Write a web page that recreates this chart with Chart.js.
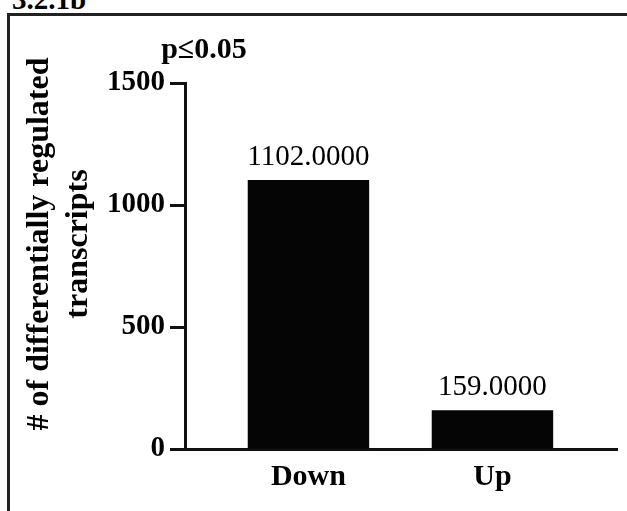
<!DOCTYPE html>
<html>
<head>
<meta charset="utf-8">
<script src="https://cdn.jsdelivr.net/npm/chart.js@4"></script>
<style>
    body { margin: 0; background: #fff; overflow: hidden; }
    #wrap { position: relative; width: 627px; height: 511px; overflow: hidden; }
    #frame {
        position: absolute; left: 7px; top: 13px; width: 700px; height: 600px;
        border-top: 3px solid #222; border-left: 3px solid #222;
    }
    #fig-label {
        position: absolute; left: 12px; top: -17px; line-height: 1;
        font: bold 29px "Liberation Serif", serif; color: #000;
    }
    #performance-chart { position: absolute; left: 0; top: 0; }
</style>
</head>
<body>
<div id="wrap">
    <div id="fig-label">3.2.1b</div>
    <div id="frame"></div>
    <canvas id="performance-chart" width="627" height="511"></canvas>
</div>
<script>
const categories = ['Down', 'Up'];
const transcriptCounts = [1102, 159];
const yTicks = [0, 500, 1000, 1500];
const yTitle = ['# of differentially regulated', 'transcripts'];
const pLabel = 'p\u22640.05';

document.addEventListener('DOMContentLoaded', () => {
    const serif = '"Liberation Serif", "Times New Roman", serif';

    // value labels above each bar, plus the rotated axis title and p-value note
    const annotate = {
        id: 'annotate',
        afterDatasetsDraw(chart) {
            const { ctx, chartArea } = chart;
            const meta = chart.getDatasetMeta(0);
            ctx.save();
            ctx.fillStyle = '#000';
            ctx.textAlign = 'center';
            ctx.textBaseline = 'alphabetic';
            ctx.font = `29px ${serif}`;
            meta.data.forEach((bar, i) => {
                ctx.fillText(transcriptCounts[i].toFixed(4), bar.x, bar.y - 15);
            });

            ctx.font = `bold 30px ${serif}`;
            ctx.fillText(pLabel, chartArea.left + 19, chartArea.top - 25);

            ctx.font = `bold 32px ${serif}`;
            ctx.textBaseline = 'middle';
            yTitle.forEach((line, i) => {
                ctx.save();
                ctx.translate(chartArea.left - 145 + i * 39, chartArea.top + 161);
                ctx.rotate(-Math.PI / 2);
                ctx.fillText(line, 0, 0);
                ctx.restore();
            });
            ctx.restore();
        },
    };

    const ctx = document.getElementById('performance-chart').getContext('2d');
    new Chart(ctx, {
        type: 'bar',
        data: {
            datasets: [
                {
                    data: transcriptCounts.map((v, i) => ({ x: i + 1, y: v })),
                    backgroundColor: '#050505',
                    borderWidth: 0,
                    barPercentage: 0.66,
                    categoryPercentage: 1,
                },
            ],
        },
        options: {
            responsive: false,
            animation: false,
            layout: { padding: { left: 0, right: 10, top: 83, bottom: 0 } },
            plugins: {
                legend: { display: false },
                tooltip: { enabled: false },
            },
            scales: {
                x: {
                    type: 'linear',
                    offset: false,
                    min: 0.329,
                    max: 2.677,
                    afterFit: (scale) => { scale.height = 62; },
                    afterBuildTicks: (scale) => {
                        scale.ticks = categories.map((c, i) => ({ value: i + 1 }));
                    },
                    grid: { display: true, drawOnChartArea: false, drawTicks: false, offset: false },
                    border: { color: '#111', width: 3 },
                    ticks: {
                        color: '#000',
                        padding: 10,
                        maxRotation: 0,
                        font: { family: serif, size: 30, weight: 'bold' },
                        callback: (v) => categories[v - 1] ?? '',
                    },
                },
                y: {
                    min: yTicks[0],
                    max: yTicks[yTicks.length - 1],
                    afterFit: (scale) => { scale.width = 185; },
                    afterBuildTicks: (scale) => {
                        scale.ticks = yTicks.map((v) => ({ value: v }));
                    },
                    grid: {
                        drawOnChartArea: false,
                        drawTicks: true,
                        tickLength: 15,
                        tickWidth: 3,
                        tickColor: '#111',
                    },
                    border: { color: '#111', width: 3 },
                    ticks: {
                        color: '#000',
                        padding: 5,
                        font: { family: serif, size: 29, weight: 'bold' },
                        callback: (v) => String(v),
                    },
                },
            },
        },
        plugins: [annotate],
    });
});
</script>
</body>
</html>
